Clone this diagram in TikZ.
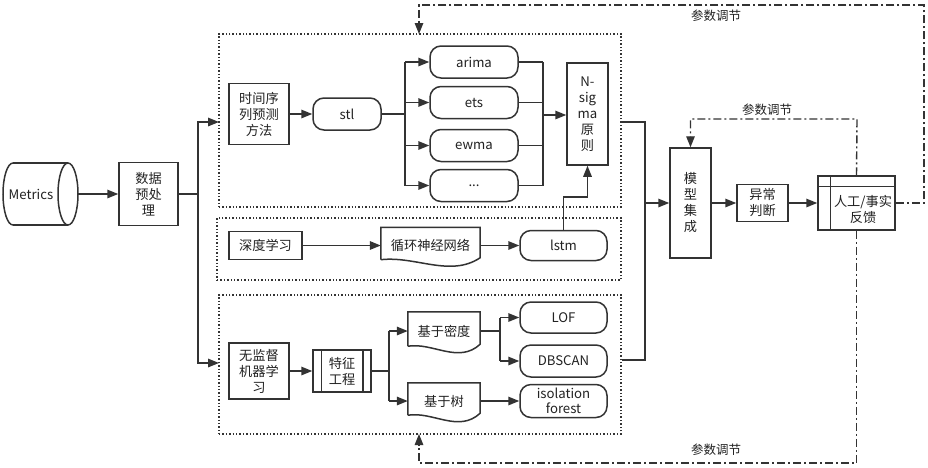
\documentclass[tikz,border=0pt]{standalone}
\usepackage{fontspec}
\setmainfont{Noto Sans CJK SC}
\usetikzlibrary{arrows.meta,calc}
\definecolor{lc}{HTML}{333333}
\definecolor{tc}{HTML}{222222}
\newcommand\dfs{\fontsize{13.2}{16}\selectfont}
\newcommand\lfs{\fontsize{12.5}{14}\selectfont}
\begin{document}
\begin{tikzpicture}[x=1pt,y=-1pt,
  line/.style={draw=lc, line width=1.5pt},
  arr/.style={line, -{Triangle[length=11pt,width=8.5pt]}},
  box/.style={draw=lc, line width=1.5pt, rectangle, inner sep=0pt, align=center, font=\dfs, text=tc},
  rbox/.style={box, rounded corners=11pt},
  plain/.style={inner sep=0pt, align=center, font=\dfs, text=tc},
  doc/.style={plain, minimum width=#1},
  dotbox/.style={draw=lc, line width=1.3pt, dash pattern=on 1.4pt off 2pt, inner sep=0pt},
  dashdot/.style={draw=lc, line width=1.4pt, dash pattern=on 8pt off 3pt on 2pt off 3pt},
  darr/.style={dashdot, -{Triangle[length=11pt,width=8.5pt]}},
  lab/.style={inner sep=0pt, font=\lfs, text=tc}
]
\useasboundingbox[fill=white] (0,0) rectangle (928,467);

% containers
\node[dotbox, minimum width=402, minimum height=173] (topbox) at (420,120.5) {};
\node[dotbox, minimum width=404, minimum height=62] (midbox) at (419,249) {};
\node[dotbox, minimum width=402, minimum height=139] (botbox) at (420,364.5) {};

% metrics cylinder
\node[inner sep=0pt, minimum width=75, minimum height=62] (met) at (40.5,194) {};
\draw[line] (13,163) -- (68,163) (68,225) -- (13,225);
\draw[line] (13,163) arc[start angle=90, end angle=270, x radius=10pt, y radius=31pt];
\draw[line] (68,194) ellipse [x radius=10pt, y radius=31pt];
\node[plain] (mett) at (31,194) {Metrics};

\node[box, minimum width=59, minimum height=63] (pre) at (148.5,194) {数据\\预处\\理};
\draw[arr] (met.east) -- (pre.west);

% bus
\coordinate (b1) at (198,194);
\coordinate (tin) at (219,122);
\coordinate (bin) at (219,363);
\draw[line] (pre.east) -- (b1);
\draw[arr] (b1) |- (tin);
\draw[arr] (b1) |- (bin);

% time series
\node[box, minimum width=60, minimum height=61] (ts) at (259,114) {时间序\\列预测\\方法};
\node[rbox, minimum width=68, minimum height=32] (stl) at (347,114) {stl};
\draw[arr] (ts.east) -- (stl.west);
\node[rbox, minimum width=88, minimum height=32] (arima) at (474,62) {arima};
\node[rbox, minimum width=88, minimum height=32] (ets) at (474,102.5) {ets};
\node[rbox, minimum width=88, minimum height=32] (ewma) at (474,145.5) {ewma};
\node[rbox, minimum width=88, minimum height=32] (more) at (474,185.5) {...};
\coordinate (s1) at (405,114);
\draw[line] (stl.east) -- (s1);
\draw[line] (s1 |- arima.west) -- (s1 |- more.west);
\foreach \n in {arima,ets,ewma,more} \draw[arr] (s1 |- \n.west) -- (\n.west);
\node[box, minimum width=41, minimum height=102] (ns) at (587.5,114) {N-\\sig\\ma\\原\\则};
\coordinate (m1) at (543,115);
\foreach \n in {arima,ets,ewma,more} \draw[line] (\n.east) -- (\n.east -| m1);
\draw[line] (m1 |- arima.east) -- (m1 |- more.east);
\draw[arr] (m1) -- (m1 -| ns.west);

% deep learning
\node[box, minimum width=73, minimum height=28] (dl) at (265.5,245.5) {深度学习};
\node[doc=99, minimum height=36] (rnn) at (430.5,245.5) {循环神经网络};
\node[rbox, minimum width=87, minimum height=30] (lstm) at (563.5,245.5) {lstm};
\draw[arr] (dl.east) -- (rnn.west);
\draw[arr] (rnn.east) -- (lstm.west);
\draw[arr] (lstm.north) -- ++(0,-33) -| (ns.south);

% unsupervised
\node[box, minimum width=60, minimum height=56] (usl) at (259,371) {无监督\\机器学\\习};
\node[box, minimum width=58, minimum height=42] (fe) at (342,371) {特征\\工程};
\draw[line] ([xshift=9pt]fe.north west) -- ([xshift=9pt]fe.south west);
\draw[line] ([xshift=-9pt]fe.north east) -- ([xshift=-9pt]fe.south east);
\draw[arr] (usl.east) -- (fe.west);
\node[doc=72, minimum height=38] (dens) at (444,331) {基于密度};
\node[doc=72, minimum height=36] (tree) at (444,401) {基于树};
\coordinate (s2) at (389,371);
\draw[line] (fe.east) -- (s2);
\draw[line] (s2 |- dens.west) -- (s2 |- tree.west);
\draw[arr] (s2 |- dens.west) -- (dens.west);
\draw[arr] (s2 |- tree.west) -- (tree.west);
\node[rbox, minimum width=87, minimum height=31] (lof) at (563.5,317.5) {LOF};
\node[rbox, minimum width=87, minimum height=32] (dbs) at (563.5,361) {DBSCAN};
\node[rbox, minimum width=87, minimum height=33, font=\fontsize{13.2}{14.5}\selectfont] (ifo) at (563.5,401) {isolation\\forest};
\coordinate (s3) at (500,331);
\draw[line] (dens.east) -- (s3);
\draw[line] (s3 |- lof.west) -- (s3 |- dbs.west);
\draw[arr] (s3 |- lof.west) -- (lof.west);
\draw[arr] (s3 |- dbs.west) -- (dbs.west);
\draw[arr] (tree.east) -- (ifo.west);

% document shapes
\foreach \n in {rnn,dens,tree}{
  \draw[line] ([yshift=4pt]\n.south west) -- (\n.north west) -- (\n.north east) -- ([yshift=6pt]\n.south east)
    .. controls ($(\n.south west)!0.7!(\n.south east)+(0,14)$) and ($(\n.south west)!0.35!(\n.south east)+(0,-8)$) .. ([yshift=4pt]\n.south west);
}

% ensemble
\coordinate (o1) at (645,122);
\coordinate (o2) at (645,360);
\coordinate (o3) at (645,203);
\draw[line] (topbox.east |- o1) -- (o1) -- (o2) -- (botbox.east |- o2);
\node[box, minimum width=41, minimum height=110] (ens) at (690.5,203) {模\\型\\集\\成};
\draw[arr] (o3) -- (ens.west);
\node[box, minimum width=51, minimum height=37] (abn) at (762.5,203) {异常\\判断};
\draw[arr] (ens.east) -- (abn.west);
\node[box, minimum width=77, minimum height=54] (fb) at (856.5,203) {};
\draw[line] ([xshift=13pt]fb.north west) -- ([xshift=13pt]fb.south west);
\draw[line] ([yshift=-11pt]fb.north west) -- ([yshift=-11pt]fb.north east);
\node[plain] (fbt) at (863,209) {人工/事实\\反馈};
\draw[arr] (abn.east) -- (fb.west);

% feedback loops
\coordinate (c1) at (857,119);
\draw[darr] (fb.north) -- (c1) -| (ens.north);
\node[lab] (l1) at (767,110) {参数调节};
\coordinate (c2) at (924,5);
\coordinate (tt) at (419,34);
\draw[darr] (fb.east) -| (c2) -| (tt);
\node[lab] (l2) at (716,16) {参数调节};
\coordinate (c3) at (419,463);
\coordinate (bt) at (419,434);
\draw[darr] (fb.south) |- (c3) -- (bt);
\node[lab] (l3) at (716,450) {参数调节};
\end{tikzpicture}
\end{document}
